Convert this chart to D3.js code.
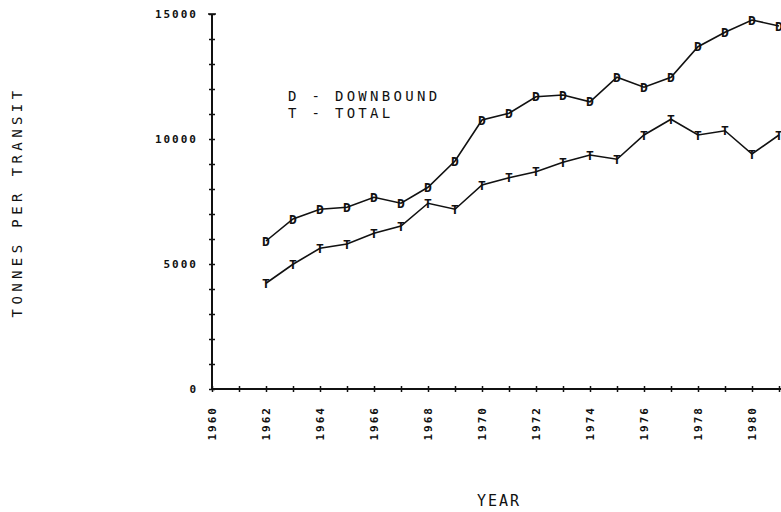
<!DOCTYPE html>
<html>
<head>
<meta charset="utf-8">
<title></title>
<script src="https://cdn.jsdelivr.net/npm/d3@7"></script>
<style>
  body { margin: 0; background: #fff; }
  .axis path, .axis line { stroke: #111; }
  .tick text { font-family: "DejaVu Sans Mono", monospace; font-weight: bold; font-size: 11px; fill: #111; }
  .lbl { font-family: "DejaVu Sans Mono", monospace; fill: #111; }
</style>
</head>
<body>
<script>
// years and the two series (tonnes per transit)
var years = d3.range(1962, 1982);
var downbound = [5920, 6800, 7190, 7270, 7670, 7430, 8070, 9120, 10760, 11030,
                 11690, 11760, 11490, 12470, 12070, 12470, 13690, 14270, 14760, 14520];
var total = [4230, 4990, 5630, 5800, 6230, 6520, 7430, 7190, 8160, 8450,
             8690, 9070, 9360, 9190, 10160, 10790, 10160, 10330, 9400, 10160];
var yearTicks = d3.range(1960, 1982);
var yearLabels = [1960, 1962, 1964, 1966, 1968, 1970, 1972, 1974, 1976, 1978, 1980];
var valueTicks = d3.range(0, 15001, 1000);
var valueLabels = [0, 5000, 10000, 15000];

var width = 781, height = 512;
var svg = d3.select("body").append("svg")
    .attr("width", width).attr("height", height);

var x = d3.scaleLinear().domain([1960, 1981]).range([212, 779]);
var y = d3.scaleLinear().domain([0, 15000]).range([389, 14]);

// x axis
var xAxis = d3.axisBottom(x)
    .tickValues(yearTicks)
    .tickSize(3)
    .tickFormat(function(d) { return yearLabels.indexOf(d) >= 0 ? d : ""; });
var gx = svg.append("g").attr("class", "axis")
    .attr("transform", "translate(0," + y(0) + ")")
    .call(xAxis);
gx.select(".domain").attr("d", "M" + x(1960) + ",0H" + (x(1981) + 2)).attr("stroke-width", 2);
gx.selectAll(".tick line").attr("y1", -3).attr("y2", 3).attr("stroke-width", 1.5);
gx.selectAll(".tick text")
    .attr("transform", "rotate(-90)")
    .attr("text-anchor", "end")
    .attr("x", -17).attr("y", 0).attr("dy", "0.35em")
    .style("letter-spacing", "2px");

// y axis
var yAxis = d3.axisLeft(y)
    .tickValues(valueTicks)
    .tickSize(3)
    .tickFormat(function(d) { return valueLabels.indexOf(d) >= 0 ? d : ""; });
var gy = svg.append("g").attr("class", "axis")
    .attr("transform", "translate(" + x(1960) + ",0)")
    .call(yAxis);
gy.select(".domain").attr("d", "M0," + y(0) + "V" + y(15000)).attr("stroke-width", 2);
gy.selectAll(".tick line").attr("x1", -3).attr("x2", 3).attr("stroke-width", 1.5);
gy.selectAll(".tick text").attr("x", -14).style("letter-spacing", "2px");
// cap at the top of the value axis
gy.append("line").attr("x1", -4).attr("x2", 4)
    .attr("y1", y(15000)).attr("y2", y(15000))
    .attr("stroke", "#111").attr("stroke-width", 1.5);

// lines
var line = d3.line()
    .x(function(d, i) { return x(years[i]); })
    .y(function(d) { return y(d); });

[[downbound, "D"], [total, "T"]].forEach(function(s) {
  svg.append("path")
      .attr("d", line(s[0]))
      .attr("fill", "none")
      .attr("stroke", "#111")
      .attr("stroke-width", 1.6);
  svg.selectAll(".m" + s[1])
      .data(s[0]).enter()
      .append("text")
      .attr("class", "lbl")
      .attr("x", function(d, i) { return x(years[i]); })
      .attr("y", function(d) { return y(d); })
      .attr("dy", "0.36em")
      .attr("text-anchor", "middle")
      .attr("font-size", 13)
      .attr("font-weight", "bold")
      .text(s[1]);
});

// legend
svg.append("text").attr("class", "lbl").attr("x", 288).attr("y", 101)
    .attr("font-size", 14).style("letter-spacing", "3.3px").text("D - DOWNBOUND");
svg.append("text").attr("class", "lbl").attr("x", 288).attr("y", 118)
    .attr("font-size", 14).style("letter-spacing", "3.3px").text("T - TOTAL");

// axis titles
svg.append("text").attr("class", "lbl")
    .attr("transform", "translate(22,202) rotate(-90)")
    .attr("text-anchor", "middle")
    .attr("font-size", 14).style("letter-spacing", "4.4px")
    .text("TONNES PER TRANSIT");
svg.append("text").attr("class", "lbl")
    .attr("x", 499).attr("y", 506)
    .attr("text-anchor", "middle")
    .attr("font-size", 15).style("letter-spacing", "2px")
    .text("YEAR");
</script>
</body>
</html>
